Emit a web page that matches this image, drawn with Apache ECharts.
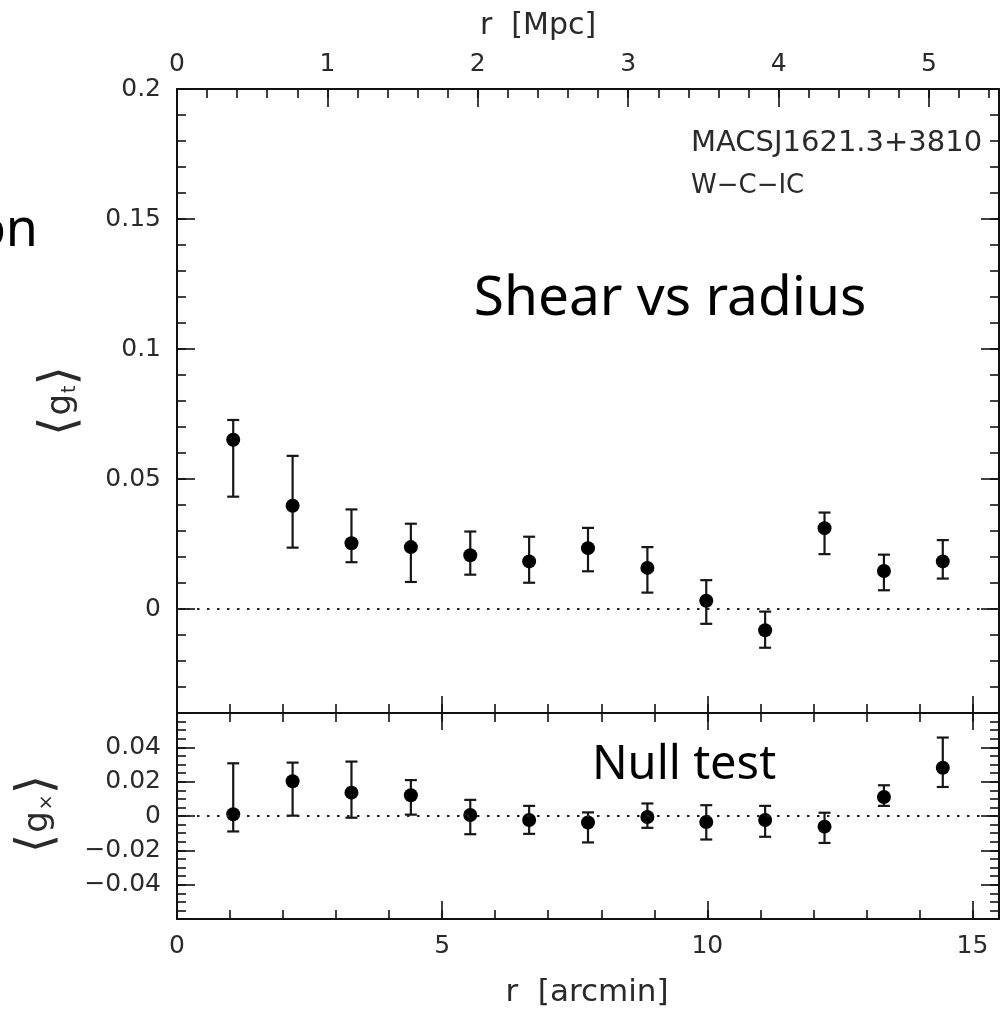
<!DOCTYPE html>
<html>
<head>
<meta charset="utf-8">
<script src="https://cdn.jsdelivr.net/npm/echarts@6/dist/echarts.min.js"></script>
<style>
html,body{margin:0;padding:0;background:#fff;}
#chart{width:1008px;height:1015px;}
</style>
</head>
<body>
<div id="chart"></div>
<script>
// ---- data ----
const rArcmin = [1.06, 2.18, 3.29, 4.41, 5.53, 6.64, 7.75, 8.87, 9.98, 11.09, 12.21, 13.33, 14.44];
const gt   = [0.0651, 0.0397, 0.0253, 0.0238, 0.0207, 0.0183, 0.0234, 0.0158, 0.0032, -0.0082, 0.0311, 0.0146, 0.0183];
const gtHi = [0.0727, 0.0589, 0.0383, 0.0328, 0.0298, 0.0278, 0.0312, 0.0238, 0.0111, -0.0010, 0.0371, 0.0209, 0.0265];
const gtLo = [0.0432, 0.0236, 0.0180, 0.0104, 0.0132, 0.0101, 0.0145, 0.0063, -0.0057, -0.0149, 0.0211, 0.0072, 0.0117];
const gx   = [0.0010, 0.0202, 0.0136, 0.0121, 0.0006, -0.0023, -0.0038, -0.0006, -0.0035, -0.0023, -0.0062, 0.0111, 0.0281];
const gxHi = [0.0307, 0.0311, 0.0317, 0.0209, 0.0094, 0.0059, 0.0021, 0.0073, 0.0063, 0.0059, 0.0019, 0.0179, 0.0457];
const gxLo = [-0.0090, 0.0002, -0.0010, 0.0008, -0.0106, -0.0104, -0.0154, -0.0069, -0.0137, -0.0121, -0.0157, 0.0059, 0.0169];

// tick labels
const arcminTicks = [0, 5, 10, 15];
const mpcTicks = [0, 1, 2, 3, 4, 5];
const gtTicks = [0, 0.05, 0.1, 0.15, 0.2];
const gxTicks = [-0.04, -0.02, 0, 0.02, 0.04];

// axis ranges
const arcminRange = [0, 15.5];
const mpcRange = [0, 5.465];
const gtRange = [-0.04, 0.2];
const gxRange = [-0.06, 0.06];

function steps(a, b, s) {
  const out = [];
  const n = Math.round((b - a) / s);
  for (let i = 0; i <= n; i++) out.push(+(a + i * s).toFixed(4));
  return out;
}
const arcminMinor = steps(0, 15, 1);
const mpcMinor = steps(0, 5.4, 0.2);
const gtMinor = steps(-0.04, 0.2, 0.01);
const gxMinor = steps(-0.06, 0.06, 0.005);
const gtMajorTicks = gtTicks;
const gxMajorTicks = steps(-0.06, 0.06, 0.02);

const FONT = 'DejaVu Sans';
const INK = '#111';
const LBL = '#2a2a2a';

function fmt(v) {
  if (Math.abs(v) < 1e-9) return '0';
  return String(+v.toFixed(3)).replace('-', '\u2212');
}

function axis(grid, pos, range, tickVals, len, opt) {
  opt = opt || {};
  return {
    type: 'value', gridIndex: grid, position: pos,
    min: range[0], max: range[1],
    axisLine: { show: !!opt.line, onZero: false, lineStyle: { color: INK, width: 2 } },
    axisTick: { show: true, inside: true, length: len, customValues: tickVals, lineStyle: { color: INK, width: 1.6 } },
    axisLabel: opt.labels ? {
      show: true, customValues: opt.labels, formatter: fmt,
      fontFamily: FONT, fontSize: 25, color: LBL, margin: opt.margin || 14
    } : { show: false },
    splitLine: { show: false },
    minorTick: { show: false },
    minorSplitLine: { show: false }
  };
}

const xAxes = [
  // top panel
  axis(0, 'bottom', arcminRange, arcminMinor, 9, { line: true }),
  axis(0, 'bottom', arcminRange, arcminTicks, 17, {}),
  axis(0, 'top', mpcRange, mpcMinor, 9, { line: true, labels: mpcTicks, margin: 12 }),
  axis(0, 'top', mpcRange, mpcTicks, 18, {}),
  // bottom panel
  axis(1, 'bottom', arcminRange, arcminMinor, 9, { line: true, labels: arcminTicks, margin: 15 }),
  axis(1, 'bottom', arcminRange, arcminTicks, 18, {}),
  axis(1, 'top', arcminRange, arcminMinor, 9, { line: true }),
  axis(1, 'top', arcminRange, arcminTicks, 17, {})
];

const yAxes = [
  axis(0, 'left', gtRange, gtMinor, 9, { line: true, labels: gtTicks, margin: 16 }),
  axis(0, 'left', gtRange, gtMajorTicks, 18, {}),
  axis(0, 'right', gtRange, gtMinor, 9, { line: true }),
  axis(0, 'right', gtRange, gtMajorTicks, 18, {}),
  axis(1, 'left', gxRange, gxMinor, 9, { line: true, labels: gxTicks, margin: 16 }),
  axis(1, 'left', gxRange, gxMajorTicks, 18, {}),
  axis(1, 'right', gxRange, gxMinor, 9, { line: true }),
  axis(1, 'right', gxRange, gxMajorTicks, 18, {})
];

function errRender(params, api) {
  const x = api.value(0), lo = api.value(1), hi = api.value(2);
  const pHi = api.coord([x, hi]);
  const pLo = api.coord([x, lo]);
  const hw = 6;
  const st = { stroke: '#161616', lineWidth: 2.2 };
  return {
    type: 'group',
    children: [
      { type: 'line', shape: { x1: pHi[0], y1: pHi[1], x2: pLo[0], y2: pLo[1] }, style: st },
      { type: 'line', shape: { x1: pHi[0] - hw, y1: pHi[1], x2: pHi[0] + hw, y2: pHi[1] }, style: st },
      { type: 'line', shape: { x1: pLo[0] - hw, y1: pLo[1], x2: pLo[0] + hw, y2: pLo[1] }, style: st }
    ]
  };
}

const zeroLine = {
  silent: true, symbol: 'none', label: { show: false },
  lineStyle: { color: '#222', width: 2, type: [2.5, 7.5], opacity: 1 },
  emphasis: { disabled: true },
  data: [{ yAxis: 0 }]
};

const yTitleRich = {
  b: { fontFamily: FONT, fontSize: 50, fill: LBL, color: LBL, verticalAlign: 'middle' },
  a: { fontFamily: FONT, fontSize: 34, fill: LBL, color: LBL, verticalAlign: 'middle', padding: [0, 1, 0, 1] },
  s: { fontFamily: FONT, fontSize: 19, fill: LBL, color: LBL, verticalAlign: 'middle', padding: [18, 0, 0, 0] }
};

const option = {
  backgroundColor: '#fff',
  animation: false,
  grid: [
    { left: 177, top: 89, width: 822, height: 624, containLabel: false },
    { left: 177, top: 713, width: 822, height: 206, containLabel: false }
  ],
  xAxis: xAxes,
  yAxis: yAxes,
  series: [
    {
      type: 'custom', xAxisIndex: 0, yAxisIndex: 0, renderItem: errRender,
      encode: { x: 0, y: [1, 2] },
      data: rArcmin.map((r, i) => [r, gtLo[i], gtHi[i]]), z: 3
    },
    {
      type: 'scatter', xAxisIndex: 0, yAxisIndex: 0, symbol: 'circle', symbolSize: 14,
      itemStyle: { color: '#000', opacity: 1 },
      data: rArcmin.map((r, i) => [r, gt[i]]), z: 4,
      markLine: zeroLine
    },
    {
      type: 'custom', xAxisIndex: 4, yAxisIndex: 4, renderItem: errRender,
      encode: { x: 0, y: [1, 2] },
      data: rArcmin.map((r, i) => [r, gxLo[i], gxHi[i]]), z: 3
    },
    {
      type: 'scatter', xAxisIndex: 4, yAxisIndex: 4, symbol: 'circle', symbolSize: 14,
      itemStyle: { color: '#000', opacity: 1 },
      data: rArcmin.map((r, i) => [r, gx[i]]), z: 4,
      markLine: zeroLine
    }
  ],
  graphic: [
    { type: 'text', x: 538, y: 26, style: { text: 'r  [Mpc]', fontFamily: FONT, fontSize: 30, fill: LBL, align: 'center', verticalAlign: 'middle' } },
    { type: 'text', x: 587, y: 993, style: { text: 'r  [arcmin]', fontFamily: FONT, fontSize: 31, fill: LBL, align: 'center', verticalAlign: 'middle' } },
    { type: 'text', x: 61, y: 401, rotation: Math.PI / 2, style: { text: '{b|\u27E8}{a|g}{s|t}{b|\u27E9}', rich: yTitleRich, align: 'center', verticalAlign: 'middle' } },
    { type: 'text', x: 38, y: 814, rotation: Math.PI / 2, style: { text: '{b|\u27E8}{a|g}{s|\u00D7}{b|\u27E9}', rich: yTitleRich, align: 'center', verticalAlign: 'middle' } },
    { type: 'text', x: 691, y: 143, style: { text: 'MACSJ1621.3+3810', fontFamily: FONT, fontSize: 29, fill: LBL, align: 'left', verticalAlign: 'middle' } },
    { type: 'text', x: 691, y: 186, style: { text: 'W\u2212C\u2212IC', fontFamily: FONT, fontSize: 26, fill: LBL, align: 'left', verticalAlign: 'middle' } },
    { type: 'text', x: 670, y: 299, style: { text: 'Shear vs radius', fontFamily: 'Noto Sans', fontSize: 55, fill: '#000', align: 'center', verticalAlign: 'middle' } },
    { type: 'text', x: 684, y: 766, style: { text: 'Null test', fontFamily: 'Noto Sans', fontSize: 47, fill: '#000', align: 'center', verticalAlign: 'middle' } },
    { type: 'text', x: 38, y: 231, style: { text: 'on', fontFamily: 'Noto Sans', fontSize: 52, fill: '#000', align: 'right', verticalAlign: 'middle' } }
  ]
};

const chart = echarts.init(document.getElementById('chart'), null, { renderer: 'canvas' });
chart.setOption(option);
</script>
</body>
</html>
